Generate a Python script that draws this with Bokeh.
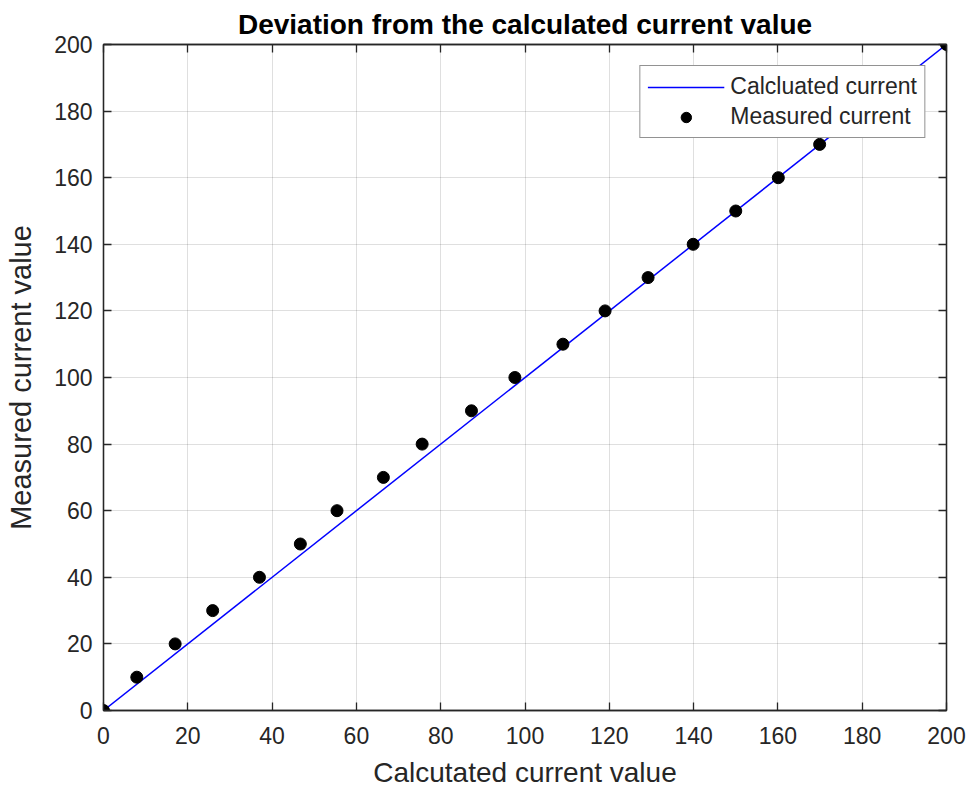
from bokeh.plotting import figure
from bokeh.models import LinearAxis, Range1d, Legend, LegendItem, FixedTicker, CustomJSTickFormatter
from bokeh.embed import file_html
from bokeh.resources import INLINE

# Data
calc_x = [0, 200]
calc_y = [0, 200]
meas_x = [0, 7.9, 17.0, 25.9, 37.0, 46.7, 55.4, 66.4, 75.6, 87.3, 97.6,
          109.0, 119.0, 129.2, 139.9, 150.0, 160.1, 169.9, 180.0, 190.0, 200.0]
meas_y = [0, 10, 20, 30, 40, 50, 60, 70, 80, 90, 100,
          110, 120, 130, 140, 150, 160, 170, 180, 190, 200]
ticks = [0, 20, 40, 60, 80, 100, 120, 140, 160, 180, 200]

FONT = "Liberation Sans"
AX = "#262626"

p = figure(frame_width=843, frame_height=666,
           min_border_left=103, min_border_right=24, min_border_top=44, min_border_bottom=79,
           x_range=Range1d(0, 200), y_range=Range1d(0, 200),
           output_backend="svg", toolbar_location=None,
           title="Deviation from the calculated current value",
           x_axis_label="Calcutated current value",
           y_axis_label="Measured current value")

p.title.align = "center"
p.title.text_font = FONT
p.title.text_font_size = "28px"
p.title.text_font_style = "bold"
p.title.text_color = "black"
p.title.standoff = 10

p.outline_line_color = AX
p.outline_line_width = 1.3

for ax in (p.xaxis[0], p.yaxis[0]):
    ax.ticker = FixedTicker(ticks=ticks)
    ax.major_tick_in = 8
    ax.major_tick_out = 0
    ax.minor_tick_line_color = None
    ax.axis_line_color = AX
    ax.axis_line_width = 1.3
    ax.major_tick_line_color = AX
    ax.major_tick_line_width = 1.3
    ax.major_label_text_font = FONT
    ax.major_label_text_font_size = "23px"
    ax.major_label_text_color = AX
    ax.axis_label_text_font = FONT
    ax.axis_label_text_font_style = "normal"
    ax.axis_label_text_color = AX

p.xaxis[0].axis_label_text_font_size = "28px"
p.yaxis[0].axis_label_text_font_size = "29px"
p.xaxis[0].major_label_standoff = 16
p.xaxis[0].axis_label_standoff = 10
p.yaxis[0].major_label_standoff = 11
p.yaxis[0].axis_label_standoff = 14

blank = CustomJSTickFormatter(code="return '';")
for loc in ("above", "right"):
    a = LinearAxis(ticker=FixedTicker(ticks=ticks), formatter=blank,
                   major_label_standoff=0, major_tick_in=8, major_tick_out=0,
                   minor_tick_line_color=None, axis_line_color=AX, axis_line_width=1.3,
                   major_tick_line_color=AX, major_tick_line_width=1.3)
    p.add_layout(a, loc)

for g in (p.xgrid[0], p.ygrid[0]):
    g.ticker = FixedTicker(ticks=ticks)
    g.grid_line_color = AX
    g.grid_line_alpha = 0.15
    g.grid_line_width = 1

line = p.line(calc_x, calc_y, line_color="#0000ff", line_width=1.5)
sc = p.scatter(meas_x, meas_y, size=12, fill_color="black", line_color="black")

legend = Legend(items=[LegendItem(label="Calcluated current", renderers=[line]),
                       LegendItem(label="Measured current", renderers=[sc])],
                location="top_right")
legend.margin = 21
legend.padding = 7
legend.spacing = 3
legend.glyph_width = 77
legend.glyph_height = 26
legend.label_standoff = 6
legend.label_text_font = FONT
legend.label_text_font_size = "23px"
legend.label_text_color = AX
legend.border_line_color = AX
legend.border_line_width = 1.2
legend.background_fill_color = "white"
legend.background_fill_alpha = 1.0
p.add_layout(legend)

open("out.html", "w").write(file_html(p, INLINE))
